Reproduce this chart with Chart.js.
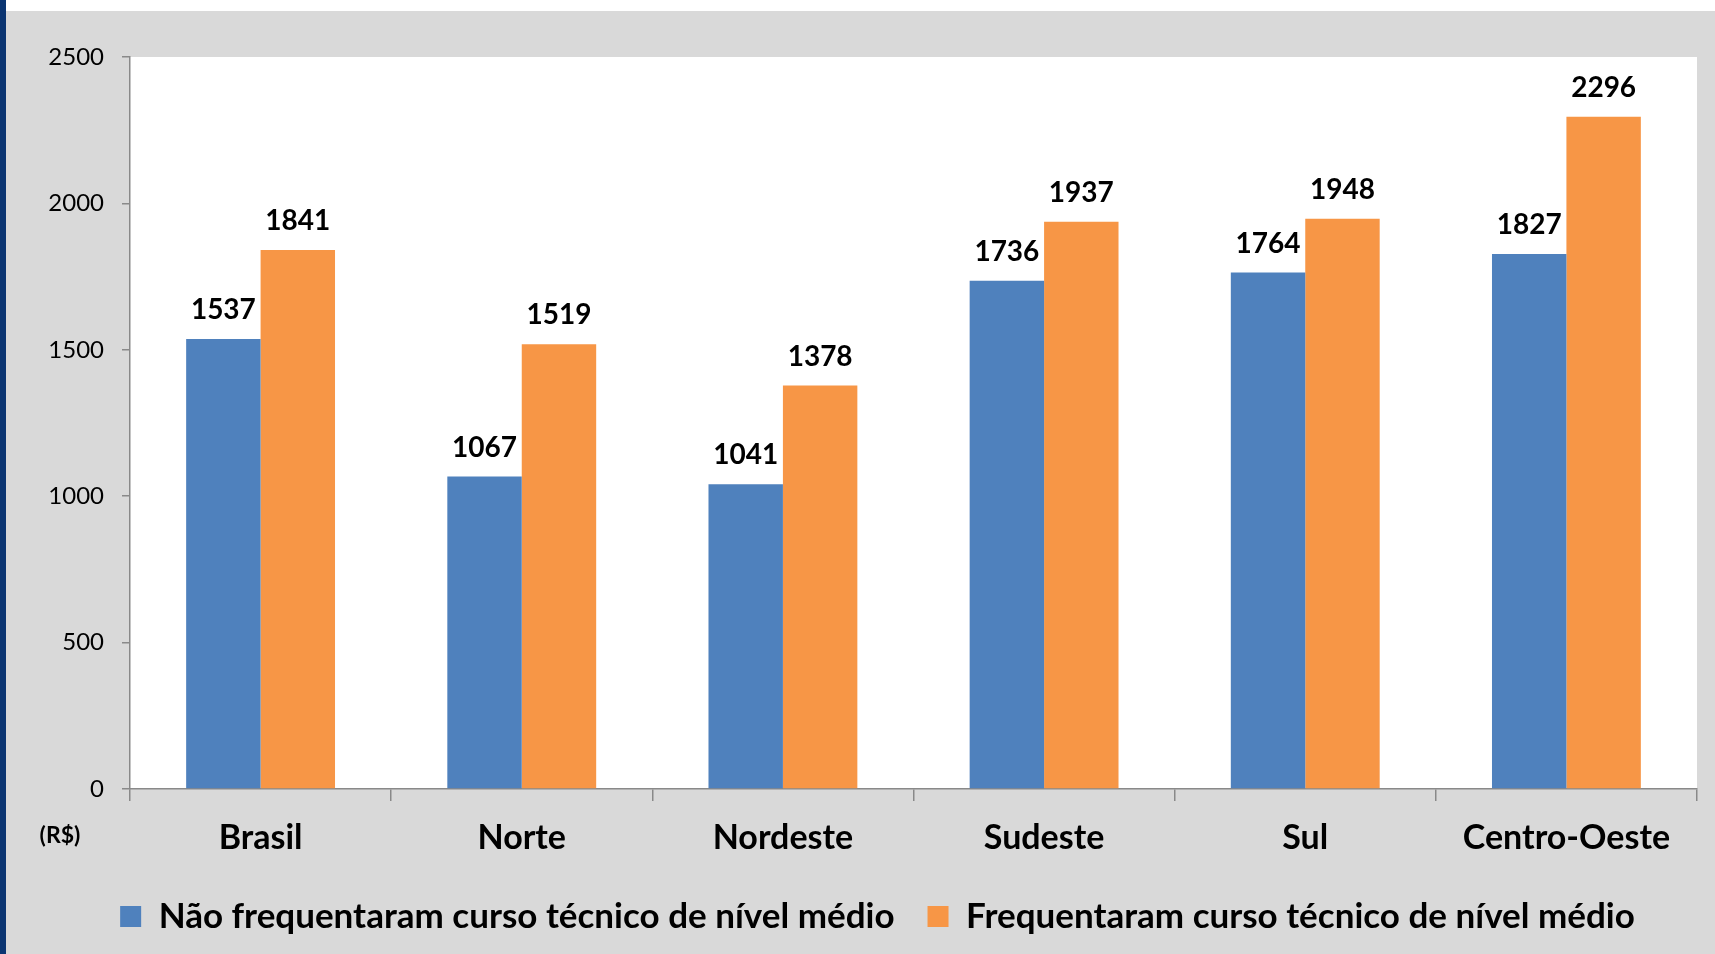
<!DOCTYPE html>
<html>
<head>
<meta charset="utf-8">
<script src="https://cdn.jsdelivr.net/npm/chart.js@4.4.1/dist/chart.umd.min.js"></script>
<style>
  html, body { margin: 0; padding: 0; background: #fff; }
  #chart { display: block; }
</style>
</head>
<body>
<canvas id="chart" width="1715" height="954"></canvas>
<script>
// ----- DATA -----
const regions = ['Brasil', 'Norte', 'Nordeste', 'Sudeste', 'Sul', 'Centro-Oeste'];
const semCurso = [1537, 1067, 1041, 1736, 1764, 1827];
const comCurso = [1841, 1519, 1378, 1937, 1948, 2296];
const seriesNames = [
  'Não frequentaram curso técnico de nível médio',
  'Frequentaram curso técnico de nível médio'
];
const yTicks = [0, 500, 1000, 1500, 2000, 2500];
const unitLabel = '(R$)';

const BLUE = '#4f81bd';
const ORANGE = '#f79646';
const AXIS = '#898989';
const FONT = 'Lato, "Open Sans", sans-serif';

// background: navy stripe, white top strip, grey frame, white plot area
const framePlugin = {
  id: 'frame',
  beforeDraw(chart) {
    const { ctx, chartArea: a, width, height } = chart;
    ctx.save();
    ctx.fillStyle = '#ffffff';
    ctx.fillRect(0, 0, width, height);
    ctx.fillStyle = '#d9d9d9';
    ctx.fillRect(6, 11, width - 6, height - 11);
    ctx.fillStyle = '#0b3572';
    ctx.fillRect(0, 0, 6, height);
    ctx.fillStyle = '#ffffff';
    ctx.fillRect(a.left, a.top, a.right - a.left, a.bottom - a.top);
    ctx.restore();
  },
  afterLayout(chart) {
    // legend sits a bit right of centre in the original
    if (chart.legend) {
      chart.legend.left += 26;
      chart.legend.right += 26;
    }
  },
  afterDatasetsDraw(chart) {
    const { ctx } = chart;
    ctx.save();
    ctx.fillStyle = '#000';
    ctx.font = 'bold 28px ' + FONT;
    ctx.textAlign = 'center';
    ctx.textBaseline = 'alphabetic';
    chart.data.datasets.forEach((ds, i) => {
      chart.getDatasetMeta(i).data.forEach((bar, j) => {
        ctx.fillText(String(ds.data[j]), bar.x, bar.y - 20);
      });
    });
    // unit label under the y axis
    ctx.font = 'bold 23px ' + FONT;
    ctx.textBaseline = 'middle';
    ctx.fillText(unitLabel, 60, 836);
    ctx.restore();
  }
};

new Chart(document.getElementById('chart').getContext('2d'), {
  type: 'bar',
  data: {
    labels: regions,
    datasets: [
      { label: seriesNames[0], data: semCurso, backgroundColor: BLUE },
      { label: seriesNames[1], data: comCurso, backgroundColor: ORANGE }
    ]
  },
  options: {
    responsive: false,
    animation: false,
    devicePixelRatio: 1,
    layout: { padding: { left: 6, top: 57, right: 18, bottom: 10 } },
    datasets: {
      bar: { categoryPercentage: 0.57, barPercentage: 1.0 }
    },
    scales: {
      x: {
        grid: { display: true, drawOnChartArea: false, tickLength: 12, color: AXIS, lineWidth: 1.5 },
        border: { color: AXIS, width: 1.5 },
        ticks: { color: '#000', padding: 17, font: { family: FONT, size: 34, weight: 'bold' } },
        afterFit(scale) { scale.height = 77; }
      },
      y: {
        min: 0,
        max: 2500,
        afterBuildTicks(scale) { scale.ticks = yTicks.map(v => ({ value: v })); },
        grid: { display: true, drawOnChartArea: false, tickLength: 8, color: AXIS, lineWidth: 1.5 },
        border: { color: AXIS, width: 1.5 },
        ticks: {
          color: '#000',
          padding: 18,
          font: { family: FONT, size: 24 },
          callback: v => String(v)
        },
        afterFit(scale) { scale.width = 124; }
      }
    },
    plugins: {
      legend: {
        position: 'bottom',
        labels: {
          boxWidth: 21,
          boxHeight: 21,
          padding: 33,
          color: '#000',
          font: { family: FONT, size: 35, weight: 'bold' }
        }
      },
      tooltip: { enabled: false }
    }
  },
  plugins: [framePlugin]
});
</script>
</body>
</html>
